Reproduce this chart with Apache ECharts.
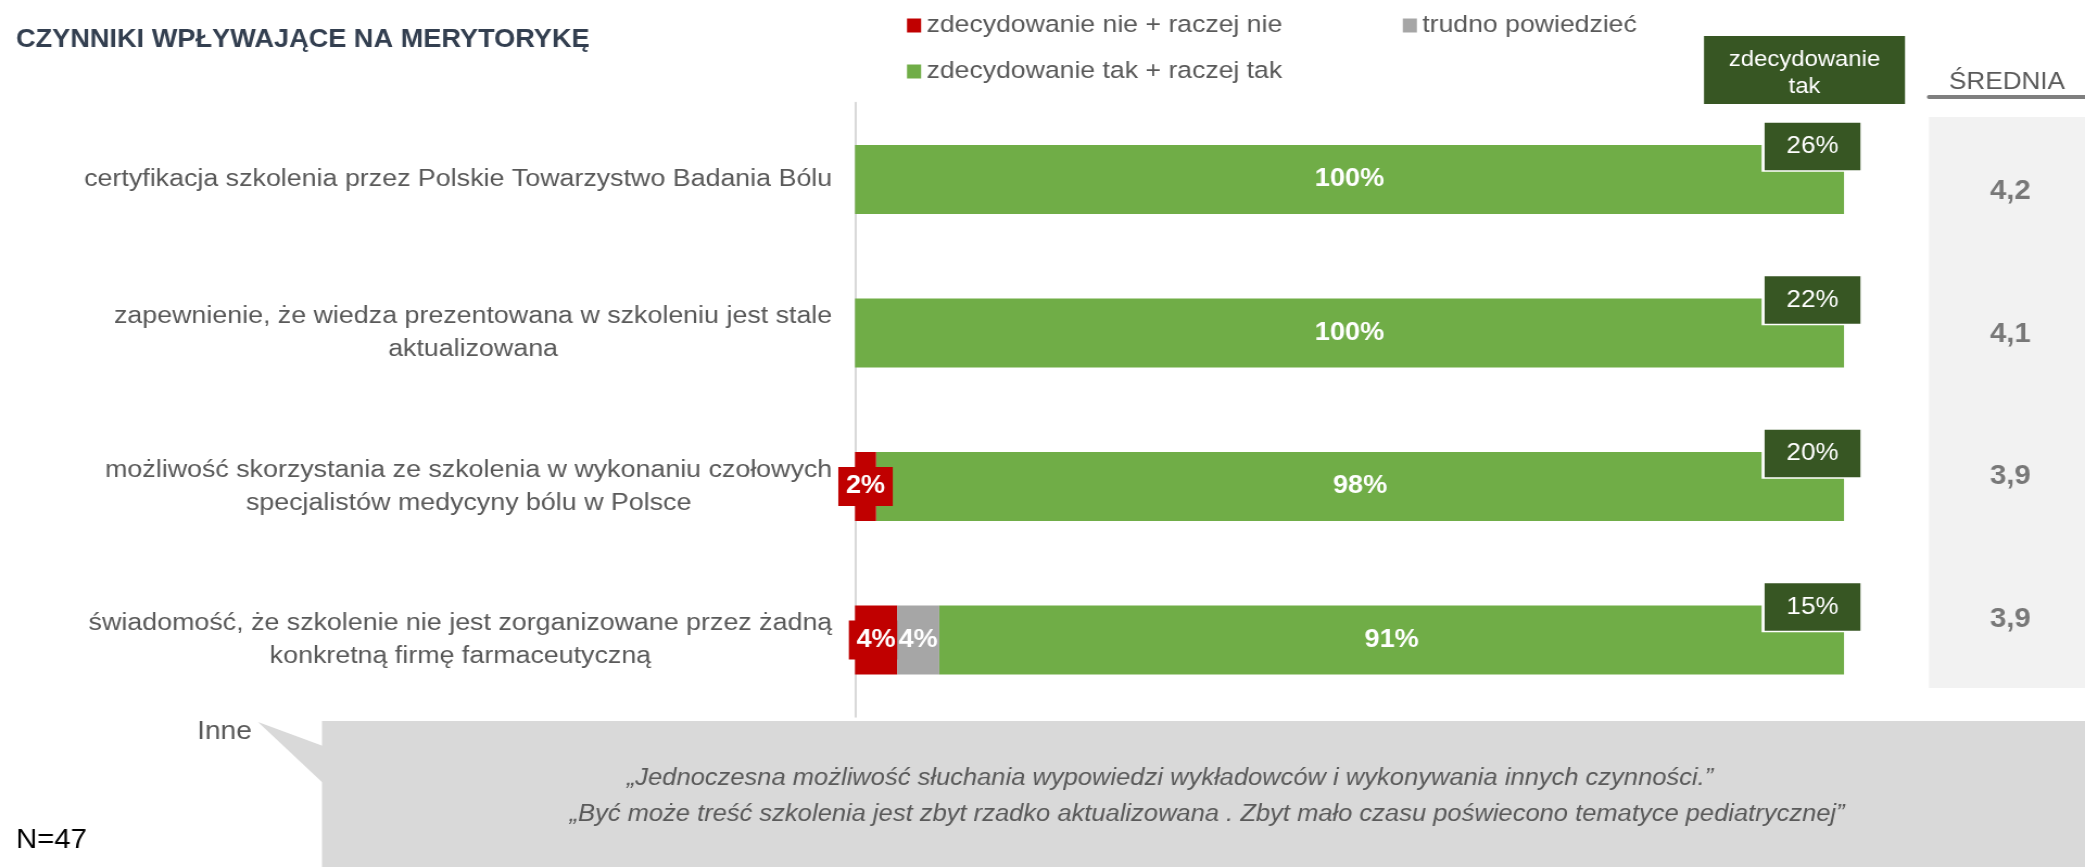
<!DOCTYPE html>
<html>
<head>
<meta charset="utf-8">
<script src="https://cdn.jsdelivr.net/npm/echarts@6/dist/echarts.min.js"></script>
<style>
  html, body { margin: 0; padding: 0; background: #fff; overflow: hidden; }
  #chart { width: 1920px; height: 867px; transform: scaleX(1.0859375); transform-origin: 0 0; }
</style>
</head>
<body>
<div id="chart"></div>
<script>
// ---- data ----
const titleText = 'CZYNNIKI WPŁYWAJĄCE NA MERYTORYKĘ';
const categories = [
  'certyfikacja szkolenia przez Polskie Towarzystwo Badania Bólu',
  'zapewnienie, że wiedza prezentowana w szkoleniu jest stale\naktualizowana',
  'możliwość skorzystania ze szkolenia w wykonaniu czołowych\nspecjalistów medycyny bólu w Polsce',
  'świadomość, że szkolenie nie jest zorganizowane przez żadną\nkonkretną firmę farmaceutyczną'
];
const seriesNames = ['zdecydowanie nie + raczej nie', 'trudno powiedzieć', 'zdecydowanie tak + raczej tak'];
const nie = [0, 0, 2.13, 4.26];
const trudno = [0, 0, 0, 4.26];
const tak = [100, 100, 97.87, 91.49];
const zdecydowanieTak = [26, 22, 20, 15];
const zdecydowanieTakHeader = 'zdecydowanie\ntak';
const meanHeader = 'ŚREDNIA';
const srednia = [4.2, 4.1, 3.9, 3.9];
const otherLabel = 'Inne';
const otherComments = [
  '„Jednoczesna możliwość słuchania wypowiedzi wykładowców i wykonywania innych czynności.”',
  '„Być może treść szkolenia jest zbyt rzadko aktualizowana . Zbyt mało czasu poświecono tematyce pediatrycznej”'
];
const sampleNote = 'N=47';

// ---- layout helpers (page is stretched horizontally to 2085px) ----
const S = 2085 / 1920;
const X = v => v / S;
const FONT = '"Liberation Sans", Arial, Helvetica, sans-serif';
const GREY_TXT = '#595959';
const pct = p => (p.value > 0 ? Math.round(p.value) + '%' : '');

const chart = echarts.init(document.getElementById('chart'), null, { renderer: 'canvas' });

const option = {
  animation: false,
  backgroundColor: '#fff',
  textStyle: { fontFamily: FONT },
  title: {
    text: titleText, left: X(16), top: 28, padding: 0,
    textStyle: { fontSize: 25, fontWeight: 'bold', color: '#333F50', fontFamily: FONT }
  },
  legend: [
    {
      data: [seriesNames[0], seriesNames[1]], left: X(907), top: 13, padding: 0,
      itemWidth: 13, itemHeight: 14, itemGap: 111, icon: 'rect', selectedMode: false,
      textStyle: { fontSize: 24.5, color: GREY_TXT, fontFamily: FONT }
    },
    {
      data: [seriesNames[2]], left: X(907), top: 59, padding: 0,
      itemWidth: 13, itemHeight: 14, icon: 'rect', selectedMode: false,
      textStyle: { fontSize: 24.5, color: GREY_TXT, fontFamily: FONT }
    }
  ],
  grid: [
    { left: X(855), right: 1920 - X(1844), top: 102.75, bottom: 867 - 716.75 },
    { left: X(1929), right: 0, top: 117, bottom: 179, show: true, backgroundColor: '#F2F2F2', borderWidth: 0 }
  ],
  xAxis: [
    { gridIndex: 0, type: 'value', min: 0, max: 100, show: false },
    {
      gridIndex: 1, type: 'category', data: [meanHeader], position: 'top', offset: 20,
      axisLine: { show: true, lineStyle: { color: '#7F7F7F', width: 4 } },
      axisTick: { show: false }, splitLine: { show: false },
      axisLabel: { fontSize: 24, color: GREY_TXT, margin: 3, fontFamily: FONT }
    }
  ],
  yAxis: [
    {
      gridIndex: 0, type: 'category', data: categories, inverse: true,
      axisLine: { show: true, lineStyle: { color: '#D9D9D9', width: 2 } },
      axisTick: { show: false }, splitLine: { show: false },
      axisLabel: {
        margin: 21,
        formatter: v => v.split('\n').map(s => '{c|' + s + '}').join('\n'),
        rich: { c: { align: 'center', fontSize: 24.7, lineHeight: 33, color: GREY_TXT, fontFamily: FONT } }
      }
    },
    { gridIndex: 1, type: 'category', data: categories, inverse: true, show: false }
  ],
  series: [
    {
      name: seriesNames[0], type: 'bar', stack: 'a', barWidth: 69, z: 3,
      itemStyle: { color: '#C00000' },
      label: {
        show: true, position: 'inside', formatter: pct, color: '#fff', fontSize: 25, fontWeight: 'bold',
        backgroundColor: '#C00000', padding: [7, 7], lineHeight: 25, fontFamily: FONT
      },
      data: nie.map(v => ({ value: v, label: { show: v > 0 } }))
    },
    {
      name: seriesNames[1], type: 'bar', stack: 'a', barWidth: 69, z: 4,
      itemStyle: { color: '#A6A6A6' },
      label: { show: true, position: 'inside', formatter: pct, color: '#fff', fontSize: 25, fontWeight: 'bold', fontFamily: FONT },
      data: trudno.map(v => ({ value: v, label: { show: v > 0 } }))
    },
    {
      name: seriesNames[2], type: 'bar', stack: 'a', barWidth: 69, z: 2,
      itemStyle: { color: '#70AD47' },
      label: { show: true, position: 'inside', formatter: pct, color: '#fff', fontSize: 25, fontWeight: 'bold', fontFamily: FONT },
      data: tak
    },
    {
      name: 'zdecydowanie tak', type: 'scatter', xAxisIndex: 0, yAxisIndex: 0, z: 6, clip: false,
      symbol: 'rect', symbolSize: [91, 49], symbolOffset: [-29, -33],
      itemStyle: { color: '#375623', borderColor: '#fff', borderWidth: 2, opacity: 1 },
      label: {
        show: true, position: 'inside', color: '#fff', fontSize: 24, fontFamily: FONT,
        formatter: p => zdecydowanieTak[p.dataIndex] + '%'
      },
      data: categories.map((c, i) => [Math.round(nie[i] + trudno[i] + tak[i]), i])
    },
    {
      name: meanHeader, type: 'scatter', xAxisIndex: 1, yAxisIndex: 1, z: 5,
      symbol: 'rect', symbolSize: 1, itemStyle: { color: 'rgba(0,0,0,0)' },
      label: {
        show: true, position: 'inside', offset: [3, 3], fontSize: 27, fontWeight: 'bold', color: GREY_TXT, fontFamily: FONT,
        formatter: p => srednia[p.dataIndex].toFixed(1).replace('.', ',')
      },
      data: srednia.map((v, i) => [0, i])
    }
  ],
  graphic: [
    { type: 'rect', shape: { x: X(1704), y: 36, width: X(1905) - X(1704), height: 68 }, style: { fill: '#375623' }, z: 10 },
    {
      type: 'text', x: X(1804.5), y: 73.5, z: 11,
      style: { text: zdecydowanieTakHeader, align: 'center', verticalAlign: 'middle', fill: '#fff', fontSize: 22, lineHeight: 27, fontFamily: FONT }
    },
    { type: 'rect', shape: { x: X(322), y: 721, width: 1920 - X(322), height: 146 }, style: { fill: '#D9D9D9' }, z: 1 },
    { type: 'polygon', shape: { points: [[X(258), 722], [X(323), 746], [X(323), 783]] }, style: { fill: '#D9D9D9' }, z: 1 },
    {
      type: 'text', x: X(1170), y: 778, z: 2,
      style: { text: otherComments[0], align: 'center', verticalAlign: 'middle', fill: GREY_TXT, fontSize: 23.5, fontStyle: 'italic', fontFamily: FONT }
    },
    {
      type: 'text', x: X(1207), y: 814, z: 2,
      style: { text: otherComments[1], align: 'center', verticalAlign: 'middle', fill: GREY_TXT, fontSize: 23.5, fontStyle: 'italic', fontFamily: FONT }
    },
    {
      type: 'text', x: X(197), y: 732, z: 2,
      style: { text: otherLabel, align: 'left', verticalAlign: 'middle', fill: GREY_TXT, fontSize: 26, fontFamily: FONT }
    },
    {
      type: 'text', x: X(16), y: 841, z: 2,
      style: { text: sampleNote, align: 'left', verticalAlign: 'middle', fill: '#000', fontSize: 27, fontFamily: FONT }
    }
  ]
};
chart.setOption(option);
</script>
</body>
</html>
